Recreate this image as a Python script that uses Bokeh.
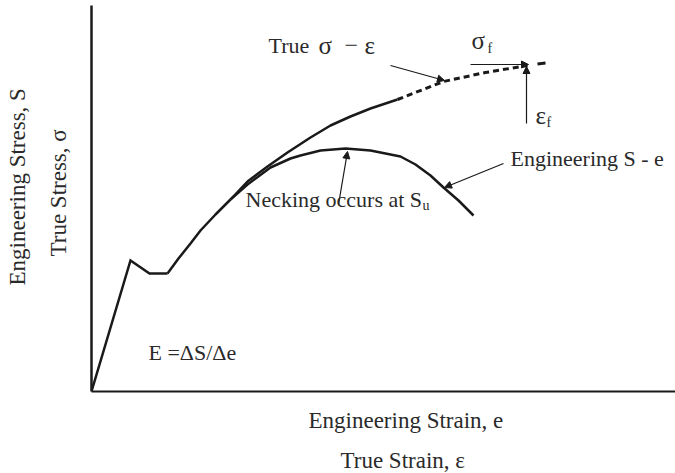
from bokeh.plotting import figure
from bokeh.models import Range1d, Label, Arrow, NormalHead, Title
from bokeh.embed import file_html
from bokeh.resources import INLINE

# Schematic stress-strain curve (arbitrary units)
# elastic region + yield point drop + Lüders plateau
elastic_strain = [0.0, 3.9, 5.8, 7.6]
elastic_stress = [0.0, 13.1, 11.8, 11.8]

# strain hardening, common to both curves
common_strain = [7.6, 8.7, 9.9, 10.9, 12.4, 13.9]
common_stress = [11.8, 13.3, 14.8, 16.1, 17.7, 19.2]

# engineering S - e beyond the common part (peaks at S_u, then necking)
eng_strain = [13.9, 15.6, 17.9, 19.9, 20.9, 22.9, 25.4, 27.9, 30.9, 32.4, 33.9, 35.2, 36.7, 38.2]
eng_stress = [19.2, 20.7, 22.4, 23.3, 23.6, 24.1, 24.3, 24.1, 23.5, 22.7, 21.6, 20.4, 19.1, 17.6]

# true sigma - epsilon, measured part
true_strain = [13.9, 15.6, 17.6, 19.6, 21.9, 23.9, 25.9, 27.9, 30.6]
true_stress = [19.2, 21.0, 22.5, 23.9, 25.4, 26.6, 27.5, 28.3, 29.2]

# true sigma - epsilon, extrapolated to fracture
true_ext_strain = [30.6, 35.2, 39.4, 43.6]
true_ext_stress = [29.2, 31.0, 31.9, 32.6]
beyond_strain = [44.6, 45.4]
beyond_stress = [32.75, 32.85]

FONT = "Liberation Serif"
INK = "#1a1a1a"
TXT = "#2a2a2a"

p = figure(width=675, height=473, output_backend="svg", toolbar_location=None,
           x_range=Range1d(0, 58.4), y_range=Range1d(0, 38.6),
           min_border_left=91, min_border_right=0, min_border_top=5,
           min_border_bottom=82)
p.outline_line_color = None
p.xgrid.visible = False
p.ygrid.visible = False
for ax in (p.xaxis, p.yaxis):
    ax.ticker = []
    ax.major_tick_line_color = None
    ax.minor_tick_line_color = None
    ax.major_tick_out = 0
    ax.major_tick_in = 0
    ax.major_label_standoff = 0
    ax.major_label_text_font_size = "0px"
    ax.axis_line_color = INK
p.yaxis.axis_line_width = 2.5
p.xaxis.axis_line_width = 2

p.line(elastic_strain, elastic_stress, line_width=2.5, line_color=INK, line_join="miter")
p.line(common_strain, common_stress, line_width=2.5, line_color=INK)
p.line(eng_strain, eng_stress, line_width=2.5, line_color=INK)
p.line(true_strain, true_stress, line_width=2.5, line_color=INK)
p.line(true_ext_strain, true_ext_stress, line_width=3, line_color=INK, line_dash="6 4")
p.line(beyond_strain, beyond_stress, line_width=3, line_color=INK)

# pointer arrows: (x_start, y_start, x_end, y_end)
arrows = [
    (29.9, 32.6, 35.3, 31.1),   # True sigma - epsilon
    (37.9, 32.7, 43.7, 32.7),   # sigma_f
    (43.5, 26.8, 43.5, 32.5),   # epsilon_f
    (41.2, 22.8, 35.3, 20.4),   # Engineering S - e
    (24.7, 18.7, 25.6, 24.0),   # necking at S_u
]
for xs, ys, xe, ye in arrows:
    p.add_layout(Arrow(x_start=xs, y_start=ys, x_end=xe, y_end=ye,
                       line_width=1.2, line_color=INK,
                       end=NormalHead(size=7, fill_color=INK, line_color=INK, line_width=1)))

def lab(text, x, y, size=22, align="left", baseline="middle"):
    p.add_layout(Label(x=x, y=y, text=text, text_font=FONT,
                       text_font_size=f"{size}px", text_color=TXT,
                       text_align=align, text_baseline=baseline))

lab("True", 17.7, 34.6)
lab("\u03c3", 22.7, 34.6, size=25)
lab("\u2212", 25.3, 34.6, size=24)
lab("\u03b5", 27.3, 34.6, size=25)
lab("\u03c3", 38.0, 35.1, size=25)
lab("f", 39.6, 34.3, size=14)
lab("\u03b5", 44.4, 27.6, size=25)
lab("f", 45.5, 26.9, size=14)
lab("Engineering S - e", 41.9, 23.3)
lab("Necking occurs at S", 15.4, 19.2)
lab("u", 33.1, 18.6, size=14)
lab("E =\u0394S/\u0394e", 5.7, 3.9)

# axis titles, stacked outward from the frame
def side_title(text, side, offset, standoff):
    p.add_layout(Title(text=text, align="left", text_font=FONT,
                       text_font_size="23px", text_font_style="normal",
                       text_color=TXT, offset=offset, standoff=standoff), side)

side_title("True Stress, \u03c3", "left", 135, 42)
side_title("Engineering Stress, S", "left", 106, -15)
side_title("Engineering Strain, e", "below", 217, 28)
side_title("True Strain, \u03b5", "below", 249, -2)

open("out.html", "w").write(file_html(p, INLINE))
